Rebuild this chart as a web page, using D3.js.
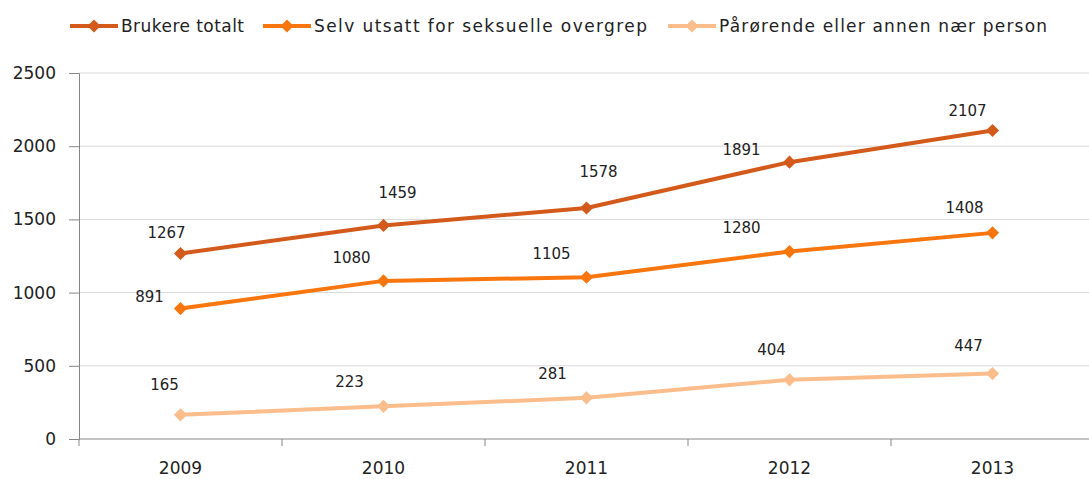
<!DOCTYPE html>
<html>
<head>
<meta charset="utf-8">
<script src="https://cdn.jsdelivr.net/npm/d3@7"></script>
<style>
  body { margin: 0; background: #fff; }
  svg text { font-family: 'DejaVu Sans', Verdana, sans-serif; fill: #222; }
</style>
</head>
<body>
<div class="container"></div>
<script>
  var years = ['2009', '2010', '2011', '2012', '2013']
  var seriesNames = ['Brukere totalt', 'Selv utsatt for seksuelle overgrep', 'Pårørende eller annen nær person']
  var totalt = [1267, 1459, 1578, 1891, 2107]
  var selvUtsatt = [891, 1080, 1105, 1280, 1408]
  var parorende = [165, 223, 281, 404, 447]
  var yTicks = [0, 500, 1000, 1500, 2000, 2500]

  var colors = ['#D35A1B', '#F9760F', '#FBBD8C']

  // label placement relative to the point (label positions as Excel drew them)
  var labelOffsets = [
    [[-14, -21], [14, -33], [12, -36], [-48, -12], [-25, -20]],
    [[-31, -12], [-32, -23], [-35, -23], [-48, -24], [-28, -25]],
    [[-16, -30], [-34, -25], [-34, -24], [-18, -30], [-24, -28]]
  ]

  var series = [totalt, selvUtsatt, parorende].map(function (vals, i) {
    return { name: seriesNames[i], color: colors[i], values: vals.map(function (v, j) { return { year: years[j], value: v } }) }
  })

  var W = 1089
  var H = 479
  var margin = { top: 73, right: -5, bottom: 40, left: 79 }
  var width = W - margin.left - margin.right
  var height = H - margin.top - margin.bottom

  var svg = d3.select('.container').append('svg')
    .attr('width', W)
    .attr('height', H)

  var g = svg.append('g')
    .attr('transform', 'translate(' + margin.left + ',' + margin.top + ')')

  var x = d3.scaleBand().domain(years).range([0, width])
  var y = d3.scaleLinear().domain([0, 2500]).range([height, 0])

  // gridlines
  g.append('g')
    .selectAll('line')
    .data(yTicks.slice(1))
    .enter().append('line')
    .attr('x1', 0)
    .attr('x2', W - margin.left)
    .attr('y1', function (d) { return y(d) })
    .attr('y2', function (d) { return y(d) })
    .attr('stroke', '#d9d9d9')
    .attr('stroke-width', 1)

  // y axis
  var yAxis = g.append('g')
    .call(d3.axisLeft(y).tickValues(yTicks).tickFormat(d3.format('d')).tickSize(10).tickPadding(13))
  yAxis.select('.domain').attr('stroke', '#868686')
  yAxis.selectAll('.tick line').attr('stroke', '#868686')
  yAxis.selectAll('text').style('font-size', '17px').attr('fill', '#222')

  // x axis with ticks at category boundaries
  var xAxis = g.append('g')
    .attr('transform', 'translate(0,' + height + ')')
  xAxis.append('line')
    .attr('x1', 0).attr('x2', W - margin.left)
    .attr('stroke', '#868686')
  xAxis.selectAll('.bt')
    .data(years.concat(['end']))
    .enter().append('line')
    .attr('class', 'bt')
    .attr('x1', function (d, i) { return i * x.step() })
    .attr('x2', function (d, i) { return i * x.step() })
    .attr('y1', 0).attr('y2', 7)
    .attr('stroke', '#868686')
  xAxis.selectAll('text')
    .data(years)
    .enter().append('text')
    .attr('x', function (d) { return x(d) + x.bandwidth() / 2 })
    .attr('y', 35)
    .attr('text-anchor', 'middle')
    .style('font-size', '17px')
    .text(function (d) { return d })

  var line = d3.line()
    .x(function (d) { return x(d.year) + x.bandwidth() / 2 })
    .y(function (d) { return y(d.value) })

  var diamond = d3.symbol().type(d3.symbolDiamond2).size(110)

  series.forEach(function (s, si) {
    g.append('path')
      .attr('d', line(s.values))
      .attr('fill', 'none')
      .attr('stroke', s.color)
      .attr('stroke-width', 4)
      .attr('stroke-linejoin', 'round')

    g.selectAll('.m' + si)
      .data(s.values)
      .enter().append('path')
      .attr('class', 'm' + si)
      .attr('d', diamond)
      .attr('transform', function (d) { return 'translate(' + (x(d.year) + x.bandwidth() / 2) + ',' + y(d.value) + ')' })
      .attr('fill', s.color)

    g.selectAll('.l' + si)
      .data(s.values)
      .enter().append('text')
      .attr('class', 'l' + si)
      .attr('x', function (d, i) { return x(d.year) + x.bandwidth() / 2 + labelOffsets[si][i][0] })
      .attr('y', function (d, i) { return y(d.value) + labelOffsets[si][i][1] })
      .attr('dy', '0.35em')
      .attr('text-anchor', 'middle')
      .style('font-size', '15px')
      .text(function (d) { return d.value })
  })

  // legend
  var legendX = [70, 263, 668]
  var legendTextW = [123, 333, 328]
  var legend = svg.append('g')
  series.forEach(function (s, i) {
    var lg = legend.append('g').attr('transform', 'translate(' + legendX[i] + ',26)')
    lg.append('line')
      .attr('x1', 0).attr('x2', 48)
      .attr('stroke', s.color).attr('stroke-width', 4)
    lg.append('path')
      .attr('d', diamond)
      .attr('transform', 'translate(24,0)')
      .attr('fill', s.color)
    lg.append('text')
      .attr('x', 51)
      .attr('dy', '0.35em')
      .attr('textLength', legendTextW[i])
      .attr('lengthAdjust', 'spacing')
      .style('font-size', '17px')
      .text(s.name)
  })
</script>
</body>
</html>
